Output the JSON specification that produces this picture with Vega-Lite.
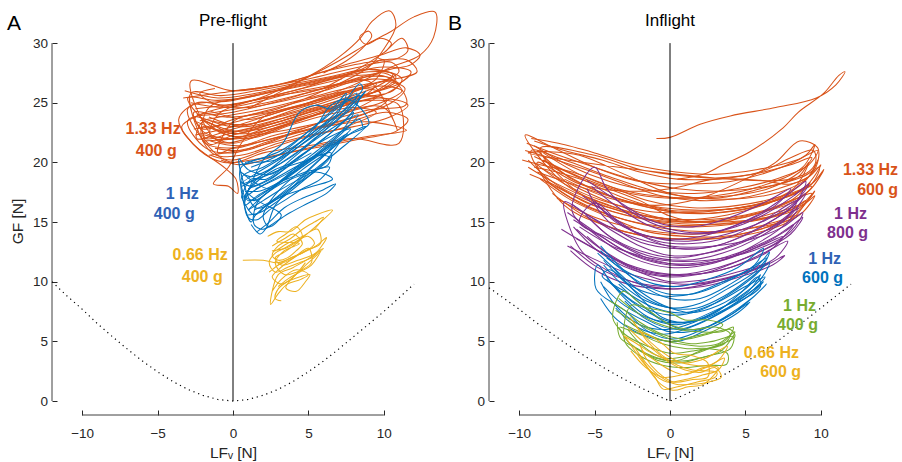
{
"$schema": "https://vega.github.io/schema/vega-lite/v6.json",
"padding": {"left": 7, "top": 8, "right": 4, "bottom": 0},
"bounds": "flush",
"spacing": 75,
"config": {
  "view": {"stroke": null},
  "font": "Liberation Sans",
  "axis": {"domain": false, "grid": false, "tickSize": -5, "tickColor": "#262626", "tickWidth": 1, "labelColor": "#262626", "labelFontSize": 13.5, "labelFont": "Liberation Sans", "titleFont": "Liberation Sans", "titleFontSize": 15.5, "titleFontWeight": "normal", "titleColor": "#262626", "labelFlush": false, "labelOverlap": false}
},
"datasets": {
  "curves": [
    {"p":"A","t":"1-01","k":"o","x":[-2.5,0,3,6,8.5,9.8,8,5,2,0,-1.8,-3,0,3.5,7,10,10.8,8.5,5,2,0,-2,-1.5,0,2.5,5.5,8,9.5,7.5,4.5,2,0,-1.5],"y":[22.3,23.0,24.2,25.3,26.2,25.8,24.4,23.0,21.6,20.8,21.2,23.5,24.2,25.3,26.6,27.5,26.8,25.5,23.8,22.4,21.6,22.3,21.5,22.3,23.0,24.0,24.6,24.2,23.0,22.0,21.0,20.2,20.6]},
    {"p":"A","t":"1-02","k":"o","x":[-3.3,-1,2,5,8,10.5,11,9,6,3,0,-2.5,-2,0,3,6,8,7,4,1,-1,-2.8,0,3,6,9,11.5,12.2,10,7,4,1,-1.5],"y":[25.4,25.8,26.3,27.0,27.9,28.4,27.6,26.4,25.0,23.9,23.0,23.8,22.8,23.6,24.6,25.6,26.0,24.8,23.4,22.0,21.8,26.8,26.0,26.5,27.6,28.4,28.6,27.6,26.8,25.8,24.6,23.6,24.3]},
    {"p":"A","t":"1-03","k":"o","x":[-2.5,0.5,4,7.5,10.5,11.5,9,6,3,0,-2,-1.8,0,3,6,9,11,11,8,5,2,0,-1.2,-3,0,3,6,8.5,10,9.5,7,4,1,-1.5],"y":[24.5,25.0,26.0,27.2,27.0,24.9,24.4,23.4,22.6,22.2,23.0,22.0,22.5,23.4,24.5,25.2,24.8,21.6,22.0,21.4,20.8,20.0,20.8,24.5,25.2,26.0,26.8,27.8,28.6,27.0,25.6,24.4,23.2,23.5]},
    {"p":"A","t":"1-04","k":"o","x":[-2.2,0,2.5,5,7.5,9.5,8.5,6,3,0.5,-1.5,-1,2,5,7,8.5,9.2,10.4,10.8,10,9,6,3,0,-1,0,2,4.5,7,9,11.5,9,6,3,0.5,-0.8],"y":[23.5,24.0,24.6,25.4,26.2,26.6,25.4,24.2,23.0,22.0,22.2,24.0,25.5,27.2,28.8,30.5,31.8,32.7,31.5,29.5,28.0,26.0,24.5,23.4,20.8,21.2,21.8,22.6,23.2,23.4,22.7,22.2,21.5,20.6,19.8,20.2]},
    {"p":"A","t":"1-05","k":"o","x":[1,4,7,9,10.5,12,13.4,13.3,12.4,10.5,8,5,2,0.5,-0.3,-1.3,-0.3,0.3,0.2,-0.5,-2.6,-3.4,-2.2,0,3,6,9,10.9,10,7,4,1,-1],"y":[24.5,26.5,28.5,30,31,32.2,32.6,30.5,29,28,26.5,25,23.8,21.5,19.6,18.2,18.0,17.4,18.6,19.5,21.5,23.0,24.0,24.8,25.6,26.2,26.8,22.7,24.6,24.2,23.2,22.0,22.6]},
    {"p":"A","t":"1-06","k":"o","x":[-2.8,-0.5,2,4.5,7,9,10.5,9.5,7,4.5,2,0,-2,-2.6,-0.5,2.5,5.5,8,10,11.2,9.8,7.5,5,2.5,0.5,-1.5],"y":[25.0,24.6,25.2,26.0,26.6,27.2,27.0,26.0,24.8,23.8,22.8,22.0,22.6,24.2,23.8,24.2,25.0,26.0,26.4,26.0,25.0,24.2,23.0,22.2,21.4,21.8]},
    {"p":"A","t":"1-07","k":"o","x":[6,7.5,8.6,9.2,9.0,8.4,8.8,9.8,10.5,10.2,9.6,10.6,11.6,11.2,10,8,6],"y":[27.5,28.5,29.6,30.6,31.0,30.5,29.9,30.4,30.0,29.4,28.8,28.6,29.4,30.4,29.2,27.6,26.2]},
    {"p":"A","t":"1-08","k":"o","x":[-2.6,-0.5,2,5,8,10,11.4,10.5,8,5,2,0,-2,-1.6,0.5,3.5,6.5,9,10.6,9.6,7,4,1.5,-0.5,-2.4],"y":[22.8,23.2,24.0,25.0,26.0,26.8,26.2,25.0,23.8,22.8,21.8,21.2,21.8,24.6,25.4,26.2,27.0,27.6,27.4,26.4,25.2,24.0,23.0,22.6,23.4]},
    {"p":"A","t":"1-09","k":"o","x":[-3.2,-1,1.5,4.5,7.5,10,11.8,11,8.5,5.5,2.5,0,-2,-2.4,0,3,6,8.8,10.2,9,6.5,3.5,0.8,-1.2],"y":[26.0,25.4,25.8,26.6,27.4,28.0,27.6,26.6,25.6,24.4,23.2,22.4,23.4,22.0,22.8,23.8,24.8,25.6,25.2,24.2,23.2,22.2,21.0,21.2]},
    {"p":"A","t":"1-10","k":"o","x":[-2,0,2.5,5,7.5,9.8,11.6,10.4,8,5.5,3,0.5,-1.4,-2.8,-0.8,1.5,4,6.5,9,10.8,10,7.5,5,2.5,0.2,-2],"y":[21.8,22.0,22.8,23.8,24.8,25.4,24.8,23.8,23.0,22.4,21.6,20.6,20.8,25.8,25.6,26.0,26.6,27.2,27.8,27.2,26.2,25.2,24.2,23.2,22.6,23.6]},
    {"p":"A","t":"1-11","k":"o","x":[-2.4,-0.2,2.2,4.8,7.4,9.6,11,10.2,8,5.6,3.2,0.8,-1.2,-3,-1,1.5,4,7,9.4,11.2,10.6,8.4,5.8,3,0.6,-1.6],"y":[24.0,24.4,25.0,25.8,26.6,27.0,26.6,25.8,25.0,24.0,23.0,22.4,22.8,25.4,25.2,25.6,26.4,27.2,27.8,27.0,26.0,25.4,24.6,23.6,23.0,23.8]},
    {"p":"A","t":"1-12","k":"o","x":[-1.6,0.4,3,5.6,8.2,10.2,11.6,10.8,8.6,6.2,3.6,1.2,-0.6,-2.2,-3.6,-2.4,-0.4,2,4.6,7.2],"y":[20.6,21.0,21.8,22.8,23.6,24.2,23.6,22.6,22.0,21.4,20.8,20.2,20.0,21.0,23.6,25.0,24.8,25.4,26.2,27.0]},
    {"p":"A","t":"1-13","k":"o","x":[0,2.5,5,7.5,9.8,11.5,12.4,11.8,10.4,8.4,6,3.5,1,-1,-2.2,-1.2],"y":[26.0,26.4,27.2,28.2,29.0,29.6,29.0,28.2,27.8,27.0,26.0,25.2,24.6,24.8,25.8,26.2]},
    {"p":"A","t":"3-01","k":"b","x":[0.8,1.5,3,5,7,8.3,7.5,5.5,3.5,2,1,0.5,1.5,3,5,7,8.4,8.6,7.5,6,4,2,0.6],"y":[17.2,18.5,19.8,21.5,23.2,24.0,22.8,20.6,18.8,17.4,16.8,19.5,20.2,20.6,22.2,24.4,26.6,26.2,24.6,22.8,21.0,19.0,18.0]},
    {"p":"A","t":"3-02","k":"b","x":[1,2,3.5,5.5,6.6,5,3,1.5,1.2,0.6,2,4,5.5,6.5,7.6,8.8,9,7.5,5.5,3.5,1.5],"y":[16.0,17.2,18.4,19.2,18.6,17.9,17.0,15.6,15.0,18.8,19.6,21.2,23.0,24.8,25.3,24.0,23.2,22.2,20.6,19.0,17.8]},
    {"p":"A","t":"3-03","k":"b","x":[1.2,1.8,2.2,2.8,4,6,8,8.8,7,5,3,1.5,0.4,1,2.5,4,6,8,8.2,7,5,3,1.2],"y":[14.8,14.0,14.5,16.4,18.0,20.5,22.6,23.0,21.0,19.0,17.0,16.2,20.3,19.4,19.0,20.4,22.6,25.0,25.8,24.8,22.6,20.6,19.6]},
    {"p":"A","t":"3-04","k":"b","x":[1.0,2.5,4.5,6.5,7.8,6.8,4.8,3,1.6,0.8,2,3.3,4.4,5.5,6.5,7.5,7,5.8,4,0.5,2,3.5,5,6.5,6.3,4.8,3.2,1.8,0.9],"y":[17.8,18.6,20.6,22.2,22.8,21.6,19.8,18.2,17.2,16.4,20.2,21.6,24.2,24.8,24.5,25.8,24.2,22.8,21.0,18.2,18.8,19.6,20.2,20.8,19.8,19.2,18.4,17.6,17.6]},
    {"p":"A","t":"3-05","k":"b","x":[0.7,1.6,2.4,3.6,5.2,6.8,7.6,6.4,4.6,3.0,2.2,2.0,2.4,3.2,1.6,0.8],"y":[19.0,18.2,17.8,18.8,20.2,21.8,22.4,21.0,19.4,17.6,16.2,15.4,14.6,15.6,16.8,17.6]},
    {"p":"A","t":"3-06","k":"b","x":[0.5,1.2,2.4,3.8,5.4,7,8,7.2,5.6,4,2.6,1.4,0.6,1.4,2.2,3.6,5,6.2,7.2,6.2,4.6,3,1.8,1.0],"y":[18.4,18.0,18.6,19.8,21.4,23.0,24.2,22.6,20.8,19.2,17.8,16.8,17.2,15.6,16.4,17.8,19.4,20.8,22.0,20.2,18.4,16.8,15.8,15.6]},
    {"p":"A","t":"3-07","k":"b","x":[0.8,2,3.2,4.6,6,7.4,8.4,8.0,6.6,5,3.6,2.2,1.2,0.6,1.6,3,4.4,5.6,6.4,5.4,4,2.6,1.4],"y":[20.0,20.4,21.0,22.2,23.6,25.0,25.6,24.4,22.6,21.0,19.8,18.6,18.6,17.0,17.8,18.8,19.8,20.6,20.4,19.2,18.0,16.8,16.0]},
    {"p":"A","t":"3-08","k":"b","x":[1.6,2.4,3.4,4.6,5.8,6.8,6.2,5,3.8,2.8,2.0,1.4,1.6,2.8,4.2,5.6,7.2,8.4,8.6],"y":[14.2,15.0,16.2,17.0,17.6,18.2,17.4,16.6,15.8,15.0,14.4,14.8,16.6,18.0,19.6,21.0,22.6,23.6,23.0]},
    {"p":"A","t":"3-09","k":"b","x":[0.4,1.4,2.8,4.2,5.6,7.0,8.2,8.8,8.2,6.8,5.2,3.8,2.4,1.2,0.5],"y":[19.8,20.0,20.2,21.4,22.8,24.0,25.2,26.0,25.0,23.4,21.8,20.4,19.4,18.8,19.2]},
    {"p":"A","t":"3-10","k":"b","x":[1.0,2.0,3.0,4.4,5.6,6.4,5.8,4.6,3.4,2.4,1.6,1.0,0.8,1.6,2.8,4.0,5.2],"y":[16.0,16.8,17.6,18.6,19.4,19.6,18.6,17.8,16.8,16.0,15.2,15.4,17.2,18.4,19.4,20.0,20.8]},
    {"p":"A","t":"5-01","k":"y","x":[0.65,2.0,3.0,4.2,5.5,6.2,5.5,4.0,3.0,2.5,3.0,3.6,4.5,5.0,4.2,3.2,2.6],"y":[11.8,11.8,11.6,12.2,13.0,13.7,12.4,11.2,10.6,8.1,9.0,9.8,10.2,10.6,11.0,10.2,9.2]},
    {"p":"A","t":"5-02","k":"y","x":[2.3,3.0,3.8,4.8,5.5,6.6,5.8,4.5,3.5,2.6,2.8,3.6,4.6,5.6,5.8,4.8,3.8,3.0,2.6,3.2,4.0,4.8],"y":[13.8,14.2,14.2,15.2,15.6,16.0,15.0,13.6,12.8,12.6,12.6,13.2,13.8,14.4,13.2,12.6,11.8,11.0,10.4,9.8,10.4,11.6]},
    {"p":"A","t":"5-03","k":"y","x":[3.0,4.0,5.0,5.2,4.2,3.4,2.8,3.4,4.4,2.9,3.5,4.2,4.6,4.0,3.3,2.8,3.2,4.3,5.2,6.0,3.5,4.2,4.8,5.1,4.4,3.6,3.0,2.8,3.2],"y":[11.4,12.0,12.8,11.6,10.8,10.6,11.6,12.6,13.2,13.4,14.0,14.6,13.8,13.0,12.4,12.0,11.4,11.8,12.2,12.8,9.5,9.2,10.0,10.6,10.4,10.0,9.4,8.6,8.4]},
    {"p":"A","t":"5-04","k":"y","x":[2.4,3.0,3.8,4.6,5.4,5.0,4.2,3.4,2.8,2.4,2.8,3.6,4.4,5.2,5.8,5.2,4.4,3.6,3.0],"y":[10.8,11.4,12.0,12.4,13.2,13.8,13.4,12.8,12.4,11.6,10.8,11.2,11.6,12.0,12.6,11.4,10.8,10.2,9.6]},
    {"p":"A","t":"5-05","k":"y","x":[2.6,3.4,4.0,4.6,4.2,3.6,3.0,2.6,3.0,3.8,4.6,5.4,6.0,5.4],"y":[13.0,13.6,14.0,13.2,12.6,12.0,11.8,12.2,13.0,13.6,14.4,15.0,15.4,14.4]},
    {"p":"B","t":"1-01","k":"o","x":[-9,-6.5,-3,0,3,6,8.5,9.3,8,5,2,-1,-4,-7,-9.6,-8,-5,-2,1,4,7,9,9.6,8.8,6,3,0,-3,-6,-8.4],"y":[20.5,19.0,17.0,16.0,16.0,16.5,17.5,18.3,16.8,15.6,15.2,15.4,16.4,18.2,22.3,21.4,19.6,18.4,18.2,18.4,19.4,20.6,21.5,19.6,18.0,17.2,17.0,17.5,18.8,20.2]},
    {"p":"B","t":"1-02","k":"o","x":[-8.5,-6,-3,0,3,6,8,9,8.2,6,3,0,-3,-6,-8.5,-9.2,-7,-4,-1,2,5,7.5,9.2,9.8,9,6.5,3.5,0.5,-2.5,-5.5,-8],"y":[19.5,17.8,16.2,15.2,15.0,15.3,16.0,16.8,15.4,14.6,14.2,14.4,15.2,16.6,19.0,21.0,20.2,18.8,17.6,17.0,17.0,17.6,18.8,20.2,18.5,16.6,15.8,15.8,16.6,18.0,19.8]},
    {"p":"B","t":"1-03","k":"o","x":[-7.5,-5,-2,1,4,7,8.5,7.5,4.5,1.5,-1.5,-4.5,-7,-8.8,-6,-3,0,3,6,8,9.5,9.8,8.6,7,5,2,-1,-4,-7],"y":[17.0,15.4,14.4,14.0,14.2,15.0,15.6,14.8,13.8,13.6,13.8,14.8,16.4,20.0,18.2,17.6,17.8,18.6,18.5,18.2,19.2,21.2,21.8,20.0,18.6,17.0,16.4,17.0,18.6]},
    {"p":"B","t":"1-04","k":"o","x":[-9,-7.5,-5,-2,0,2,5,8,9.4,8.6,6,3,0,-3,-6,-8.6,-5,-2,0,3,6,8,9.5,9.6,8,-9.4,-8,-6,-3,0,3,6,8.5,9.2,8.2,5.5,2.5,-0.5,-3.5,-6.5,-8.8],"y":[19.6,19.2,18.2,16.8,15.5,15.0,15.4,16.8,17.4,16.2,15.2,14.8,14.8,15.8,17.4,21.2,20.6,19.4,19.0,18.7,19.2,20.4,21.0,19.8,18.6,20.8,20.9,20.6,19.0,17.4,17.0,17.8,18.8,20.0,17.8,16.4,16.0,16.2,17.0,18.6,21.0]},
    {"p":"B","t":"1-05","k":"o","x":[-0.9,0,2,4,7,9.7,11,11.6,11.2,10.2,8.5,7.5,5.3,3.5,2.2,0.5],"y":[22.0,22.1,23.2,23.9,24.6,25.4,26.5,27.6,27.3,25.8,24.2,22.9,20.9,19.8,19.0,18.6]},
    {"p":"B","t":"1-06","k":"o","x":[-9.3,-7.5,-5.5,-3,-0.5,2,4.5,7,8.8,9.6,8.4,6,3.5,1,-1.5,-4,-6.5,-8.6],"y":[19.0,18.0,16.6,15.6,15.0,14.8,15.0,15.8,16.6,17.6,15.8,14.4,13.8,13.8,14.2,15.4,16.8,18.6]},
    {"p":"B","t":"1-07","k":"o","x":[-9.5,-7.8,-5.5,-2.5,0.5,3.5,6.5,8.8,9.9,9.4,7.5,4.5,1.5,-1.5,-4.5,-7,-9],"y":[21.6,20.8,19.8,18.6,17.8,17.6,18.0,18.8,19.6,18.2,17.0,16.2,15.8,15.9,16.8,18.2,20.0]},
    {"p":"B","t":"1-08","k":"o","x":[-8.2,-6.5,-4,-1.5,1,4,7,9,9.6,8.6,6,3,0,-3,-5.5,-7.8],"y":[18.4,17.0,15.6,14.8,14.6,14.8,15.6,16.6,17.2,15.6,14.4,13.6,13.6,14.2,15.4,17.4]},
    {"p":"B","t":"1-09","k":"o","x":[-9.8,-8.6,-6.5,-4,-1.5,1.5,4.5,7.5,9.4,10.2,9.2,7,4,1,-2,-5,-7.5,-9.4],"y":[20.2,19.8,19.2,18.0,16.8,16.2,16.4,17.2,18.2,19.4,17.6,16.2,15.2,15.0,15.6,16.8,18.2,19.6]},
    {"p":"B","t":"1-10","k":"o","x":[-9,-7,-4.5,-2,0.5,3,5.5,8,9.4,8.6,6.5,4,1.5,-1,-3.5,-6,-8.4],"y":[21.8,21.0,20.2,19.2,18.6,18.6,19.0,19.8,20.4,19.2,17.8,17.2,17.0,17.2,17.8,19.0,20.8]},
    {"p":"B","t":"1-11","k":"o","x":[-9.6,-8,-5.6,-3,-0.6,2,4.6,7.2,9.2,10,9,6.6,3.8,1,-2,-5,-7.6,-9.4],"y":[21.0,20.4,19.4,18.2,17.2,16.8,17.0,17.8,18.8,19.8,18.0,16.6,15.6,15.2,15.6,16.6,18.2,20.2]},
    {"p":"B","t":"1-12","k":"o","x":[-8.8,-7,-4.6,-2,0.6,3.2,6,8.2,9.4,8.4,6,3.4,0.6,-2.2,-5,-7.6],"y":[19.2,18.4,17.4,16.4,15.8,15.8,16.4,17.4,18.0,16.8,15.8,15.2,15.0,15.4,16.4,18.0]},
    {"p":"B","t":"1-13","k":"o","x":[-9.2,-7.4,-5,-2.4,0.4,3,5.8,8.4,9.8,9.2,7,4.4,1.6,-1.2,-4,-6.8,-9],"y":[22.0,21.6,20.8,19.8,19.2,19.0,19.4,20.2,21.0,19.8,18.6,17.8,17.4,17.6,18.4,19.8,21.4]},
    {"p":"B","t":"2-01","k":"p","x":[-6.5,-4.5,-2,0,2.5,5,7,8.5,7.8,5.5,3,0,-2.5,-5,-6.5,-5.0,-4.2,-2.5,0,3,5.5,7.5,9,8.2,6,3,0,-2.5,-4.5,-5.5],"y":[16.5,14.8,13.0,12.2,12.4,13.4,14.8,16.2,15.0,13.0,11.6,11.2,12.0,14.0,16.0,19.6,17.8,15.8,14.4,14.2,15.4,17.0,18.4,16.4,14.6,13.0,12.8,13.6,15.6,17.8]},
    {"p":"B","t":"2-02","k":"p","x":[-6.2,-4.5,-2,0,2.5,5,6.6,5.5,3,0.5,-2,-4.5,-6,-7,-5.5,-3,0,3,5.5,7.5,8.8,8,5.5,2.5,-0.5,-3.5,-6],"y":[13.6,12.4,10.8,10.0,10.2,11.0,11.6,11.0,10.0,9.4,9.8,11.2,12.8,16.7,15.6,14.0,13.0,13.0,13.6,14.6,15.8,14.2,12.6,11.8,11.8,12.8,14.6]},
    {"p":"B","t":"2-03","k":"p","x":[-5.5,-3.5,-1,1.5,4,6.5,8,7,4.5,2,-0.5,-3,-5,-6,-4,-1.5,1,3.5,6,7.5,6.6,4,1.5,-1,-3.5,-5.5],"y":[18.5,16.8,15.0,14.6,15.4,16.8,17.8,16.4,14.8,13.8,13.6,14.6,16.6,15.0,13.6,12.0,11.4,11.8,13.0,13.8,12.6,11.2,10.6,10.6,11.8,13.8]},
    {"p":"B","t":"2-04","k":"p","x":[-6.8,-5,-3,-0.5,2,4.5,7,8.2,7.2,5,2.5,0,-2.5,-4.8,-6.4],"y":[15.8,14.2,12.6,11.6,11.6,12.4,13.8,14.8,13.4,12.0,10.8,10.4,11.0,12.6,14.6]},
    {"p":"B","t":"2-05","k":"p","x":[-5.8,-4,-1.8,0.5,3,5.5,7.8,9,8,6,3.5,1,-1.5,-3.8,-5.6],"y":[17.2,15.6,13.8,12.8,13.0,14.2,16.0,17.4,15.6,13.8,12.4,11.8,12.2,13.6,15.6]},
    {"p":"B","t":"2-06","k":"p","x":[-7.2,-5.6,-3.5,-1,1.5,4,6.2,7.8,7,5,2.5,0,-2.5,-4.8,-6.6],"y":[14.4,13.2,11.8,10.8,10.6,11.2,12.4,13.4,12.0,10.8,10.0,9.6,10.0,11.2,13.0]},
    {"p":"B","t":"2-07","k":"p","x":[-4.8,-3,-0.8,1.5,4,6,8.4,7.6,5.5,3,0.5,-2,-4,-5.4],"y":[16.4,14.6,13.4,13.2,13.8,15.0,16.8,15.2,13.8,12.6,12.0,12.6,13.8,15.4]},
    {"p":"B","t":"2-08","k":"p","x":[-6.4,-4.6,-2.4,0,2.6,5.2,7.6,8.8,8,5.8,3.2,0.6,-2,-4.4,-6.2],"y":[15.2,13.8,12.2,11.4,11.6,12.6,14.2,15.4,14.0,12.4,11.2,10.6,11.0,12.6,14.4]},
    {"p":"B","t":"2-09","k":"p","x":[-5.2,-3.4,-1.2,1.2,3.8,6.2,8.2,9.2,8.4,6.4,3.8,1.2,-1.4,-3.6,-5],"y":[18.0,16.2,14.6,14.0,14.4,15.6,17.2,18.2,16.8,15.2,14.0,13.4,13.8,15.0,16.8]},
    {"p":"B","t":"2-10","k":"p","x":[-6.8,-5.2,-3,-0.6,1.8,4.2,6.4,7.6,6.8,4.6,2.2,-0.2,-2.8,-5,-6.6],"y":[13.0,12.0,10.8,10.0,9.8,10.4,11.4,12.2,11.4,10.4,9.6,9.4,9.8,11.0,12.6]},
    {"p":"B","t":"3-01","k":"b","x":[-4.6,-3.5,-2,0,2,4,6,6.6,6,4,2,0,-2,-3.8,-4.8,-4.9,-3.5,-1.5,0,2,4,5.3,4.5,2.5,0.5,-1.5,-3.5,-4.6],"y":[13.0,11.5,9.8,8.6,8.6,9.8,11.6,12.5,11.0,9.0,7.6,7.2,8.0,9.8,11.4,9.4,8.0,6.6,5.8,6.0,7.2,8.3,7.4,6.0,5.0,5.4,6.8,8.6]},
    {"p":"B","t":"3-02","k":"b","x":[-4.2,-2.8,-1,0.5,2.5,4.5,6.2,5.6,3.5,1.5,-0.5,-2.5,-4,-4.5,-3,-1,1,3,5,6.3,5.2,3,1,-1,-3,-4.4],"y":[12.0,10.8,9.8,9.6,10.2,11.2,12.8,11.4,10.0,9.0,8.8,9.6,11.0,10.5,9.2,7.8,7.4,8.2,9.6,10.4,9.0,7.6,6.6,6.8,8.0,9.6]},
    {"p":"B","t":"3-03","k":"b","x":[-3.8,-2.2,-0.5,1,3,4.8,5.8,6,4.4,2.4,0.5,-1.5,-3],"y":[11.2,9.0,7.0,6.6,7.4,9.2,10.4,9.6,8.2,6.8,6.0,6.8,8.4]},
    {"p":"B","t":"3-04","k":"b","x":[-4.4,-3.2,-1.6,0,1.8,3.6,5.4,6.6,6,4.2,2.2,0.4,-1.4,-3,-4.2],"y":[11.8,10.2,8.6,7.8,7.8,8.8,10.4,11.6,10.2,8.4,7.0,6.4,7.0,8.6,10.4]},
    {"p":"B","t":"3-05","k":"b","x":[-4.8,-3.6,-2,-0.4,1.4,3.2,5,6,5.2,3.4,1.6,-0.2,-2,-3.6,-4.6],"y":[12.4,11.0,9.2,8.0,7.4,8.0,9.4,10.6,9.2,7.8,6.6,6.0,6.4,8.0,10.0]},
    {"p":"B","t":"3-06","k":"b","x":[-3.4,-2,-0.6,0.8,2.4,4,5.6,6.4,5.4,3.6,1.8,0.2,-1.4,-2.8],"y":[9.8,8.2,6.8,6.0,6.2,7.2,8.8,9.8,8.6,7.0,5.8,5.2,5.8,7.4]},
    {"p":"B","t":"3-07","k":"b","x":[-4.6,-3.4,-1.8,-0.2,1.6,3.4,5.2,6.4,5.6,3.8,2,0.2,-1.6,-3.2,-4.4],"y":[12.6,11.2,9.8,9.0,9.0,9.8,11.0,12.0,10.8,9.4,8.2,7.8,8.4,9.8,11.4]},
    {"p":"B","t":"3-08","k":"b","x":[-4.2,-3,-1.4,0.2,2,3.8,5.4,6.2,5.2,3.4,1.4,-0.4,-2.2,-3.6],"y":[10.2,8.8,7.4,6.6,6.8,7.8,9.2,10.0,8.8,7.4,6.2,5.6,6.2,7.8]},
    {"p":"B","t":"4-01","k":"g","x":[-4,-3,-2,-0.5,1,2.5,4,4.3,3,1.5,0,-1.5,-3,-3.8,-3.1,-2.2,-1.2,0,1.5,3,4,3.6,2,0.5,-1,-2.5,-3.3,-3.5],"y":[8.4,7.6,6.6,5.6,5.2,5.6,6.0,5.4,4.6,4.2,4.0,4.6,5.6,7.0,9.2,8.4,7.4,6.4,6.0,6.2,5.6,4.8,4.2,3.4,3.6,4.6,5.3,6.6]},
    {"p":"B","t":"4-02","k":"g","x":[-3.3,-2,-0.5,1,2.5,3.8,3.76,2.5,1,-0.5,-2,-3,-2.6,-1.5,0,1,2.5,3.5,2.8,1.5,0,-1.5,-2.8],"y":[6.2,5.6,4.8,4.4,4.4,4.0,3.1,3.0,2.8,3.0,3.8,5.0,8.0,7.8,7.4,6.8,6.8,6.4,5.8,5.4,5.0,5.6,6.8]},
    {"p":"B","t":"4-03","k":"g","x":[-3.6,-2.6,-1.4,0,1.4,2.8,4.2,4,2.6,1.2,-0.2,-1.6,-2.8,-3.4],"y":[7.6,6.8,6.0,5.2,4.8,5.0,5.4,4.4,3.8,3.4,3.4,4.0,5.0,6.2]},
    {"p":"B","t":"4-04","k":"g","x":[-3,-2,-0.8,0.6,2,3.2,4.3,3.4,2,0.6,-0.8,-2.2],"y":[6.4,5.8,5.2,4.8,4.6,4.8,5.8,4.2,3.6,3.2,3.4,4.4]},
    {"p":"B","t":"4-05","k":"g","x":[-3.4,-2.4,-1,0.6,2,3.4,4.2,3.8,2.6,1.2,-0.4,-1.8,-2.8],"y":[8.6,7.6,6.6,6.0,5.8,5.8,6.2,5.2,4.4,3.8,3.6,4.6,6.0]},
    {"p":"B","t":"5-01","k":"y","x":[-2.65,-2.2,-1.5,-0.5,0.5,1.5,3.1,3.0,1.8,0.5,-0.45,-1,-2,-3,-3.1,-2.2,-1.2,0,1.2,2.4,3.8,3.2,2.0,0.8,-0.5,-1.6,-2.6],"y":[7.0,6.2,5.0,3.8,3.0,2.6,2.4,2.0,1.6,1.2,1.0,2.0,3.6,5.4,5.5,4.8,4.0,3.4,3.2,3.6,4.6,3.4,2.6,2.2,2.0,2.8,4.2]},
    {"p":"B","t":"5-02","k":"y","x":[-2.2,-1.5,-0.5,0.3,1.5,2.5,2.5,1.5,0.2,-0.8,-1.6,-2,-1.8,-1.0,0,1,2.2,3.2,2.2,1.2,0.2,-0.6,-1.4],"y":[5.8,5.6,4.8,4.0,3.8,3.2,2.0,1.8,1.6,2.4,3.6,4.8,4.2,3.4,2.6,2.2,2.8,2.8,1.4,1.2,0.9,1.4,2.6]},
    {"p":"B","t":"5-03","k":"y","x":[-2.8,-2,-1,0,1,2,3,3.4,2.6,1.4,0.4,-0.6,-1.6,-2.4],"y":[6.2,5.2,4.2,3.2,2.6,2.4,2.8,2.0,1.6,1.4,1.4,2.0,3.2,4.6]},
    {"p":"B","t":"5-04","k":"y","x":[-2.4,-1.8,-0.8,0.4,1.6,2.6,3.6,3.2,2.2,1,-0.2,-1.2,-2],"y":[6.6,5.6,4.4,3.4,3.0,3.0,3.6,2.6,2.2,1.8,1.6,2.4,3.8]}
  ],
  "cone": [
    {"p":"A","x":[-12,-11,-10,-9,-8,-7,-6,-5,-4,-3,-2,-1,0,1,2,3,4,5,6,7,8,9,10,11,12],"y":[10,8.8,7.7,6.5,5.4,4.35,3.35,2.45,1.65,0.98,0.48,0.13,0,0.13,0.48,0.98,1.65,2.45,3.35,4.35,5.4,6.45,7.5,8.65,9.8]},
    {"p":"B","x":[-12,-11,-10,-9,-8,-7,-6,-5,-4,-3,-2,-1,0,1,2,3,4,5,6,7,8,9,10,11,12],"y":[9.5,8.6,7.7,6.7,5.8,4.9,4.05,3.25,2.5,1.8,1.15,0.55,0,0.55,1.15,1.8,2.5,3.25,4.05,4.9,5.85,6.8,7.8,8.8,9.8]}
  ],
  "labels": [
    {"p":"A","k":"o","x":-3.47,"y":22.77,"text":"1.33 Hz"},
    {"p":"A","k":"o","x":-3.73,"y":20.93,"text":"400 g"},
    {"p":"A","k":"bt","x":-2.27,"y":17.33,"text":"1 Hz"},
    {"p":"A","k":"bt","x":-2.54,"y":15.65,"text":"400 g"},
    {"p":"A","k":"y","x":-0.35,"y":12.21,"text":"0.66 Hz"},
    {"p":"A","k":"y","x":-0.68,"y":10.37,"text":"400 g"},
    {"p":"B","k":"o","x":15.12,"y":19.34,"text":"1.33 Hz"},
    {"p":"B","k":"o","x":15.12,"y":17.66,"text":"600 g"},
    {"p":"B","k":"p","x":13.06,"y":15.65,"text":"1 Hz"},
    {"p":"B","k":"p","x":13.13,"y":14.06,"text":"800 g"},
    {"p":"B","k":"bt","x":11.34,"y":11.88,"text":"1 Hz"},
    {"p":"B","k":"b","x":11.47,"y":10.29,"text":"600 g"},
    {"p":"B","k":"g","x":9.68,"y":7.94,"text":"1 Hz"},
    {"p":"B","k":"g","x":9.81,"y":6.35,"text":"400 g"},
    {"p":"B","k":"y","x":8.55,"y":4.0,"text":"0.66 Hz"},
    {"p":"B","k":"y","x":8.69,"y":2.41,"text":"600 g"}
  ],
  "letters": [
    {"p":"A","x":-14.98,"y":31.11,"text":"A"},
    {"p":"B","x":-14.72,"y":31.11,"text":"B"}
  ],
  "titles": [
    {"p":"A","x":0,"y":31.41,"text":"Pre-flight"},
    {"p":"B","x":0,"y":31.41,"text":"Inflight"}
  ]
},
"hconcat": [
  {
    "width": 362, "height": 406,
    "encoding": {
      "x": {"field": "x", "type": "quantitative", "scale": {"domain": [-12, 12], "nice": false, "zero": false}, "axis": {"values": [-10, -5, 0, 5, 10], "title": "LFᵥ [N]", "labelPadding": 16, "titleY": 42.3, "titleBaseline": "alphabetic"}},
      "y": {"field": "y", "type": "quantitative", "scale": {"domain": [-1.17, 32.86], "nice": false, "zero": false}, "axis": {"values": [0, 5, 10, 15, 20, 25, 30], "title": "GF [N]", "labelPadding": 9.5, "titleX": -34.3, "titleY": 212, "titleAngle": -90, "titleAlign": "center", "titleBaseline": "middle"}}
    },
    "layer": [
      {"data": {"values": [{"x": -12, "y": 0, "y2": 30}]}, "mark": {"type": "rule", "color": "#404040", "strokeWidth": 1}, "encoding": {"y2": {"field": "y2"}}},
      {"data": {"values": [{"x": -10, "x2": 10, "y": -1.17}]}, "mark": {"type": "rule", "color": "#404040", "strokeWidth": 1}, "encoding": {"x2": {"field": "x2"}}},
      {"data": {"name": "cone"}, "transform": [{"filter": "datum.p == 'A'"}, {"flatten": ["x", "y"]}, {"window": [{"op": "row_number", "as": "i"}]}], "mark": {"type": "line", "color": "#000000", "strokeWidth": 1.2, "strokeDash": [1.2, 3.8]}, "encoding": {"order": {"field": "i", "type": "quantitative"}}},
      {"data": {"name": "curves"}, "transform": [{"filter": "datum.p == 'A'"}, {"flatten": ["x", "y"]}, {"window": [{"op": "row_number", "as": "i"}]}], "mark": {"type": "line", "strokeWidth": 1.05, "interpolate": "catmull-rom"}, "encoding": {"detail": {"field": "t", "type": "nominal"}, "order": {"field": "i", "type": "quantitative"}, "color": {"field": "k", "type": "nominal", "scale": {"domain": ["o", "p", "b", "g", "y", "bt"], "range": ["#D95319", "#7E2F8E", "#0072BD", "#77AC30", "#EDB120", "#2F62B5"]}, "legend": null}}},
      {"data": {"values": [{"x": 0, "y": 0, "y2": 30}]}, "mark": {"type": "rule", "color": "#000000", "strokeWidth": 1}, "encoding": {"y2": {"field": "y2"}}},
      {"data": {"name": "labels"}, "transform": [{"filter": "datum.p == 'A'"}], "mark": {"type": "text", "align": "right", "baseline": "middle", "fontSize": 16, "fontWeight": "bold", "font": "Liberation Sans"}, "encoding": {"text": {"field": "text"}, "color": {"field": "k", "type": "nominal", "scale": {"domain": ["o", "p", "b", "g", "y", "bt"], "range": ["#D95319", "#7E2F8E", "#0072BD", "#77AC30", "#EDB120", "#2F62B5"]}, "legend": null}}},
      {"data": {"name": "letters"}, "transform": [{"filter": "datum.p == 'A'"}], "mark": {"type": "text", "align": "left", "baseline": "alphabetic", "fontSize": 21, "font": "Liberation Sans", "color": "#000000"}, "encoding": {"text": {"field": "text"}}},
      {"data": {"name": "titles"}, "transform": [{"filter": "datum.p == 'A'"}], "mark": {"type": "text", "align": "center", "baseline": "alphabetic", "fontSize": 17, "font": "Liberation Sans", "color": "#000000"}, "encoding": {"text": {"field": "text"}}}
    ]
  },
  {
    "width": 362, "height": 406,
    "encoding": {
      "x": {"field": "x", "type": "quantitative", "scale": {"domain": [-12, 12], "nice": false, "zero": false}, "axis": {"values": [-10, -5, 0, 5, 10], "title": "LFᵥ [N]", "labelPadding": 16, "titleY": 42.3, "titleBaseline": "alphabetic"}},
      "y": {"field": "y", "type": "quantitative", "scale": {"domain": [-1.17, 32.86], "nice": false, "zero": false}, "axis": {"values": [0, 5, 10, 15, 20, 25, 30], "title": null, "labelPadding": 9.5}}
    },
    "layer": [
      {"data": {"values": [{"x": -12, "y": 0, "y2": 30}]}, "mark": {"type": "rule", "color": "#404040", "strokeWidth": 1}, "encoding": {"y2": {"field": "y2"}}},
      {"data": {"values": [{"x": -10, "x2": 10, "y": -1.17}]}, "mark": {"type": "rule", "color": "#404040", "strokeWidth": 1}, "encoding": {"x2": {"field": "x2"}}},
      {"data": {"name": "cone"}, "transform": [{"filter": "datum.p == 'B'"}, {"flatten": ["x", "y"]}, {"window": [{"op": "row_number", "as": "i"}]}], "mark": {"type": "line", "color": "#000000", "strokeWidth": 1.2, "strokeDash": [1.2, 3.8]}, "encoding": {"order": {"field": "i", "type": "quantitative"}}},
      {"data": {"name": "curves"}, "transform": [{"filter": "datum.p == 'B'"}, {"flatten": ["x", "y"]}, {"window": [{"op": "row_number", "as": "i"}]}], "mark": {"type": "line", "strokeWidth": 1.05, "interpolate": "catmull-rom"}, "encoding": {"detail": {"field": "t", "type": "nominal"}, "order": {"field": "i", "type": "quantitative"}, "color": {"field": "k", "type": "nominal", "scale": {"domain": ["o", "p", "b", "g", "y", "bt"], "range": ["#D95319", "#7E2F8E", "#0072BD", "#77AC30", "#EDB120", "#2F62B5"]}, "legend": null}}},
      {"data": {"values": [{"x": 0, "y": 0, "y2": 30}]}, "mark": {"type": "rule", "color": "#000000", "strokeWidth": 1}, "encoding": {"y2": {"field": "y2"}}},
      {"data": {"name": "labels"}, "transform": [{"filter": "datum.p == 'B'"}], "mark": {"type": "text", "align": "right", "baseline": "middle", "fontSize": 16, "fontWeight": "bold", "font": "Liberation Sans"}, "encoding": {"text": {"field": "text"}, "color": {"field": "k", "type": "nominal", "scale": {"domain": ["o", "p", "b", "g", "y", "bt"], "range": ["#D95319", "#7E2F8E", "#0072BD", "#77AC30", "#EDB120", "#2F62B5"]}, "legend": null}}},
      {"data": {"name": "letters"}, "transform": [{"filter": "datum.p == 'B'"}], "mark": {"type": "text", "align": "left", "baseline": "alphabetic", "fontSize": 21, "font": "Liberation Sans", "color": "#000000"}, "encoding": {"text": {"field": "text"}}},
      {"data": {"name": "titles"}, "transform": [{"filter": "datum.p == 'B'"}], "mark": {"type": "text", "align": "center", "baseline": "alphabetic", "fontSize": 17, "font": "Liberation Sans", "color": "#000000"}, "encoding": {"text": {"field": "text"}}}
    ]
  }
]
}
